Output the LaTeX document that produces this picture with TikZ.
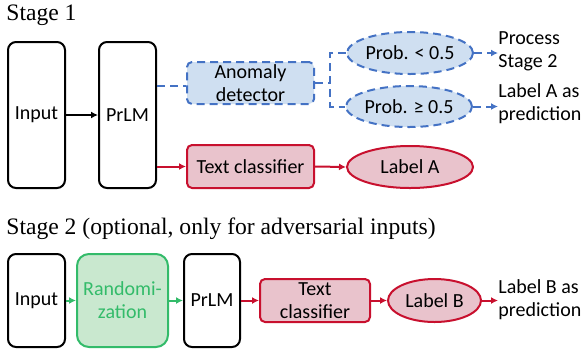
\documentclass[tikz,border=0pt]{standalone}
\usepackage{fontspec}
\setmainfont{Carlito}
\newfontfamily\titlefont{Liberation Serif}
\usepackage{tikz}
\usetikzlibrary{arrows,arrows.meta,shapes.geometric}
\definecolor{detline}{HTML}{4472C4}
\definecolor{detfill}{HTML}{CFDFF1}
\definecolor{clsline}{HTML}{C8102E}
\definecolor{clsfill}{HTML}{E9C3CC}
\definecolor{rndline}{HTML}{33BB6A}
\definecolor{rndfill}{HTML}{C9E8CF}
\tikzset{%
    >={Latex[length=3.5pt,width=3.5pt]},
    every node/.style={font=\fontsize{10}{11.5}\selectfont, align=center, inner sep=0pt},
    bigbox/.style={draw, line width=1pt, rounded corners=4pt},
    detbox/.style={draw=detline, fill=detfill, line width=1pt, dashed, dash pattern=on 4pt off 2.5pt, rounded corners=2.5pt},
    detoval/.style={ellipse, draw=detline, fill=detfill, line width=1pt, dash pattern=on 4pt off 2.5pt},
    clsbox/.style={draw=clsline, fill=clsfill, line width=1pt, rounded corners=2.5pt},
    clsoval/.style={ellipse, draw=clsline, fill=clsfill, line width=1pt},
    rndbox/.style={draw=rndline, fill=rndfill, line width=1pt, rounded corners=6pt, text=rndline},
    outtext/.style={anchor=west, align=left},
    stagetitle/.style={anchor=west, font=\titlefont\fontsize{11.8}{13}\selectfont}
}

\begin{document}
\begin{tikzpicture}[x=0.5pt, y=-0.5pt]
      \useasboundingbox (0,0) rectangle (582,349);

      % stage 1
      \node[stagetitle] (title1) at (6,15) {Stage 1};

      \node[bigbox, minimum width=28.5pt, minimum height=73pt] (in1) at (36.5,115) {Input};
      \node[bigbox, minimum width=28.5pt, minimum height=73pt] (lm1) at (127.5,115) {PrLM};

      \node[detbox, minimum width=63.5pt, minimum height=21pt] (det) at (250.5,83) {Anomaly\\detector};
      \node[detoval, minimum width=63pt, minimum height=21pt] (low) at (410,53) {Prob. < 0.5};
      \node[detoval, minimum width=63pt, minimum height=20.5pt] (high) at (409,106.5) {Prob. ≥ 0.5};
      \node[outtext] (next) at (498,51.5) {Process\\Stage 2};
      \node[outtext] (predA) at (498,103.5) {Label A as\\prediction};

      \node[clsbox, minimum width=63.5pt, minimum height=21.5pt] (cls1) at (250.5,166.5) {Text classifier};
      \node[clsoval, minimum width=63pt, minimum height=21pt] (labA) at (410,167) {Label A};

      \coordinate (fork) at (330,83);

      \draw[line width=0.8pt, ->] (in1.east) -- (lm1.west);
      \draw[detline, line width=1pt, dash pattern=on 4pt off 2.5pt] (lm1.east |- 0,86) -- (det.west |- 0,86);
      \draw[detline, line width=1pt, dash pattern=on 4pt off 2.5pt] (det.east) -- (fork);
      \draw[detline, line width=1pt, dash pattern=on 4pt off 2.5pt] (low.west) -| (fork) |- (high.west);
      \draw[detline, line width=1pt, dash pattern=on 4pt off 2.5pt, ->] (low.east) -- (next.west |- low.east);
      \draw[detline, line width=1pt, dash pattern=on 4pt off 2.5pt, ->] (high.east) -- (predA.west |- high.east);

      \draw[clsline, line width=1pt, ->] (lm1.east |- cls1.west) -- (cls1.west);
      \draw[clsline, line width=1pt, ->] (cls1.east) -- (labA.west);

      % stage 2
      \node[stagetitle] (title2) at (6,229) {Stage 2 (optional, only for adversarial inputs)};

      \node[bigbox, minimum width=28.5pt, minimum height=46.5pt] (in2) at (36.5,300.5) {Input};
      \node[rndbox, minimum width=45.5pt, minimum height=46.5pt] (rnd) at (122.5,300.5) {Randomi-\\zation};
      \node[bigbox, minimum width=28pt, minimum height=46.5pt] (lm2) at (212,300.5) {PrLM};
      \node[clsbox, minimum width=55pt, minimum height=21.5pt] (cls2) at (315,300.5) {Text\\classifier};
      \node[clsoval, minimum width=46.5pt, minimum height=21.5pt] (labB) at (434.5,300.5) {Label B};
      \node[outtext] (predB) at (498,299.5) {Label B as\\prediction};

      \draw[rndline, line width=1pt, ->] (in2.east) -- (rnd.west);
      \draw[rndline, line width=1pt, ->] (rnd.east) -- (lm2.west);
      \draw[clsline, line width=1pt, ->] (lm2.east) -- (cls2.west);
      \draw[clsline, line width=1pt, ->] (cls2.east) -- (labB.west);
      \draw[clsline, line width=1pt, ->] (labB.east) -- (predB.west |- labB.east);
\end{tikzpicture}
\end{document}
